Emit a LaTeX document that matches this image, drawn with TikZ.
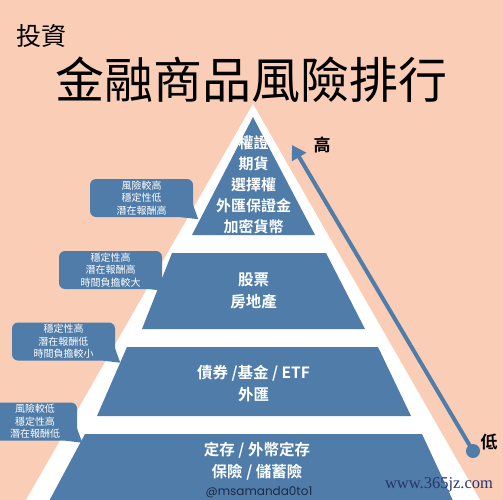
\documentclass[tikz,border=0pt]{standalone}
\usepackage{fontspec}
\newfontfamily\cjk[BoldFont={Noto Sans CJK TC Bold}]{Noto Sans CJK TC}
\newfontfamily\wmfont{Liberation Serif}
\newfontfamily\tagfont{Poppins}
\usetikzlibrary{arrows.meta,calc}
\definecolor{peach}{RGB}{250,205,183}
\definecolor{tierblue}{RGB}{79,124,168}
\definecolor{navy}{RGB}{30,42,70}
\definecolor{wmnavy}{RGB}{40,52,110}
\tikzset{
  tier/.style={fill=tierblue},
  tiertext/.style={text=white,align=center,font=\cjk\bfseries\fontsize{15.5}{22}\selectfont},
  callout/.style={fill=tierblue,rounded corners=6pt,text=white,align=center,
    minimum width=103pt,minimum height=38pt,inner sep=0pt,
    font=\cjk\fontsize{10}{12.5}\selectfont},
  sidelabel/.style={text=black,font=\cjk\bfseries\fontsize{17}{17}\selectfont,inner sep=0pt},
}
\begin{document}
\begin{tikzpicture}[x=1pt,y=-1pt]
\useasboundingbox (0,0) rectangle (503,500);
\begin{scope}
\clip (0,0) rectangle (503,500);
\fill[peach] (0,0) rectangle (503,500);
% white pyramid
\fill[white] (253,104) -- (26,500) -- (480,500) -- cycle;
% tiers
\fill[tier] (253,117) -- (192,235) -- (315,235) -- cycle;
\fill[tier] (172,253) -- (326,253) -- (365,329) -- (142,329) -- cycle;
\fill[tier] (127,347) -- (378,347) -- (411,416) -- (97,416) -- cycle;
\fill[tier] (85,434) -- (422,434) -- (455,505) -- (47,505) -- cycle;

% titles
\node[anchor=west,inner sep=0pt,font=\cjk\fontsize{25}{25}\selectfont] (sub) at (16,36) {投資};
\node[inner sep=0pt,font=\cjk\fontsize{49}{49}\selectfont] (title) at (251.5,80) {金融商品風險排行};

% tier texts
\node[tiertext,font=\cjk\bfseries\fontsize{15}{21}\selectfont] (t1) at (253.5,185) {權證\\期貨\\選擇權\\外匯保證金\\加密貨幣};
\node[tiertext] (t2) at (253.5,291) {股票\\房地產};
\node[tiertext] (t3) at (253.5,384) {債券 /基金 / ETF\\外匯};
\node[tiertext] (t4) at (257,461) {定存 / 外幣定存\\保險 / 儲蓄險};
\node[text=navy,font=\tagfont\fontsize{12}{12}\selectfont,inner sep=0pt] (tag) at (259,492) {@msamanda0to1};

% callouts
\node[callout] (b1) at (141.5,198) {風險較高\\穩定性低\\潛在報酬高};
\node[callout] (b2) at (110.5,270) {穩定性高\\潛在報酬高\\時間負擔較大};
\node[callout] (b3) at (63.5,341.5) {穩定性高\\潛在報酬低\\時間負擔較小};
\node[callout,minimum width=84pt] (b4) at (35,421.5) {風險較低\\穩定性高\\潛在報酬低};
\foreach \b in {b1,b2,b3,b4}{
  \fill[tierblue] ($(\b.south east)+(-12,0)$) -- ($(\b.south east)+(5,2)$) -- ($(\b.south east)+(0,-12)$) -- cycle;
}

% arrow
\node[circle,fill=tierblue,minimum size=14pt,inner sep=0pt] (low) at (473,451) {};
\coordinate (high) at (292,145);
\draw[tierblue,line width=4pt,-{Triangle[length=14pt,width=16pt]}] (low.center) -- (high);
\node[sidelabel] (hi) at (322,145) {高};
\node[sidelabel] (lo) at (489,442) {低};

% watermark
\node[text=wmnavy,font=\wmfont\fontsize{16.5}{16.5}\selectfont,inner sep=0pt] (wm) at (439,485) {www.365jz.com};
\end{scope}
\end{tikzpicture}
\end{document}
